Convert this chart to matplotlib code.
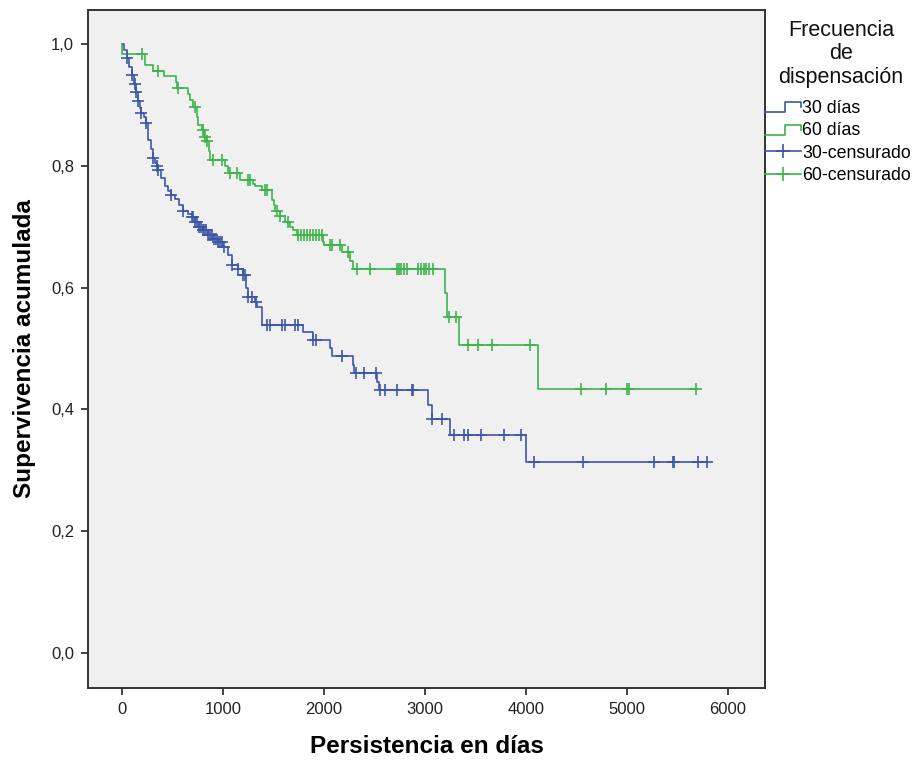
import matplotlib
matplotlib.use("Agg")
import matplotlib.pyplot as plt
from matplotlib.lines import Line2D
from matplotlib.legend_handler import HandlerBase
from matplotlib.ticker import FuncFormatter
import numpy as np

plt.rcParams["font.family"] = ["Liberation Sans", "DejaVu Sans"]

# Kaplan-Meier curve: 30 días (event time, survival after event)
t30 = [0, 20, 46, 70, 99, 120, 135, 158, 175, 188, 220, 235, 260, 285, 309, 330, 343, 356,
       390, 426, 460, 485, 520, 560, 604, 650, 690, 720, 760, 800, 850, 900, 950, 1000,
       1050, 1086, 1150, 1198, 1230, 1248, 1317, 1340, 1383, 1790, 1891, 2059, 2080,
       2287, 2300, 2525, 2545, 3030, 3069, 3248, 4000]
s30 = [1.0, 0.990, 0.977, 0.963, 0.949, 0.935, 0.922, 0.906, 0.895, 0.887, 0.880, 0.870,
       0.842, 0.828, 0.813, 0.805, 0.799, 0.793, 0.780, 0.766, 0.759, 0.752, 0.745, 0.735,
       0.725, 0.720, 0.716, 0.708, 0.700, 0.694, 0.686, 0.680, 0.674, 0.667, 0.654, 0.637,
       0.630, 0.621, 0.600, 0.585, 0.576, 0.568, 0.539, 0.527, 0.514, 0.501, 0.488, 0.473,
       0.460, 0.445, 0.432, 0.407, 0.384, 0.358, 0.314]
cens30 = [46, 99, 130, 140, 158, 188, 235, 309, 343, 356, 485, 604, 690, 700, 720, 740, 760,
          780, 800, 815, 830, 850, 870, 890, 910, 930, 950, 970, 990, 1010, 1086, 1150, 1198,
          1215, 1248, 1290, 1330, 1432, 1465, 1581, 1614, 1713, 1743, 1891, 1921, 2178, 2317,
          2396, 2515, 2554, 2604, 2723, 2871, 2881, 3069, 3168, 3287, 3386, 3426, 3554, 3782,
          3950, 4079, 4564, 5267, 5455, 5465, 5703, 5792]

# Kaplan-Meier curve: 60 días
t60 = [0, 1, 228, 307, 416, 531, 541, 650, 670, 700, 745, 752, 790, 815, 830, 860, 871, 1020,
       1050, 1168, 1300, 1317, 1383, 1482, 1500, 1515, 1560, 1614, 1660, 1693, 1730, 1993,
       2000, 2175, 2257, 2290, 3198, 3215, 3337, 4119]
s60 = [1.0, 0.983, 0.966, 0.955, 0.947, 0.938, 0.928, 0.918, 0.908, 0.897, 0.880, 0.867,
       0.859, 0.848, 0.840, 0.825, 0.810, 0.799, 0.788, 0.777, 0.770, 0.766, 0.760, 0.744,
       0.735, 0.725, 0.717, 0.708, 0.700, 0.695, 0.686, 0.675, 0.670, 0.659, 0.643, 0.630,
       0.591, 0.552, 0.506, 0.433]
cens60 = [195, 356, 551, 723, 805, 822, 838, 898, 987, 1069, 1135, 1248, 1267, 1416, 1436,
          1538, 1564, 1640, 1743, 1770, 1800, 1830, 1860, 1890, 1920, 1950, 1980, 2059, 2076,
          2158, 2241, 2323, 2455, 2720, 2740, 2760, 2790, 2818, 2931, 2960, 2990, 3010, 3040,
          3079, 3238, 3307, 3426, 3525, 3663, 4040, 4545, 4792, 5000, 5020, 5683]

blue = "#3d56a8"
green = "#3cb44b"


def surv_at(times, surv, t):
    idx = np.searchsorted(times, t, side="right") - 1
    return np.asarray(surv)[idx]


class StepHandler(HandlerBase):
    def create_artists(self, legend, orig_handle, xdescent, ydescent, width, height, fontsize, trans):
        xs = [0, 0.55 * width, 0.55 * width, width, width]
        ys = [0.05 * height, 0.05 * height, 0.85 * height, 0.85 * height, 0.45 * height]
        ln = Line2D(np.array(xs) - xdescent, np.array(ys) - ydescent, color=orig_handle.get_color(), lw=1.2)
        ln.set_transform(trans)
        return [ln]


fig = plt.figure(figsize=(9.2, 7.67), dpi=100)
ax = fig.add_axes([88 / 920, 1 - 688 / 767, 677 / 920, 678 / 767])
ax.set_facecolor("#f0f0f0")

end30 = cens30[-1]
end60 = cens60[-1]
ax.step(t30 + [end30], s30 + [s30[-1]], where="post", color=blue, lw=1.2)
ax.step(t60 + [end60], s60 + [s60[-1]], where="post", color=green, lw=1.2)
ax.plot(cens30, surv_at(t30, s30, cens30), ls="none", marker="+", ms=9, mew=1.2, color=blue)
ax.plot(cens60, surv_at(t60, s60, cens60), ls="none", marker="+", ms=9, mew=1.2, color=green)

ax.set_xlim(-337, 6366)
ax.set_ylim(-0.058, 1.056)
ax.set_xticks([0, 1000, 2000, 3000, 4000, 5000, 6000])
ax.set_yticks([0, 0.2, 0.4, 0.6, 0.8, 1.0])
ax.yaxis.set_major_formatter(FuncFormatter(lambda v, p: f"{v:.1f}".replace(".", ",")))
ax.tick_params(length=5, width=1.2, labelsize=12, colors="#222222", pad=5)
for sp in ax.spines.values():
    sp.set_linewidth(1.4)
    sp.set_color("#333333")

ax.set_xlabel("Persistencia en días", fontsize=17.5, fontweight="bold", labelpad=13)
ax.set_ylabel("Supervivencia acumulada", fontsize=17.5, fontweight="bold", labelpad=11)

# legend title drawn separately to get SPSS-like spacing
fig.text(841 / 920, 1 - 20 / 767, "Frecuencia\nde\ndispensación", ha="center", va="top",
         fontsize=15.5, linespacing=1.15, color="#111111")

handles = [Line2D([], [], color=blue), Line2D([], [], color=green),
           Line2D([], [], color=blue, marker="+", ms=10, mew=1.2, lw=1.2),
           Line2D([], [], color=green, marker="+", ms=10, mew=1.2, lw=1.2)]
labels = ["30 días", "60 días", "30-censurado", "60-censurado"]
leg = fig.legend(handles, labels,
                 loc="upper left", bbox_to_anchor=(765 / 920, 1 - 100 / 767),
                 frameon=False, fontsize=12.8, borderpad=0,
                 handlelength=2.0, handletextpad=0.1, labelspacing=0.3, borderaxespad=0,
                 handler_map={handles[0]: StepHandler(), handles[1]: StepHandler()})

fig.savefig("out.png", dpi=100)
